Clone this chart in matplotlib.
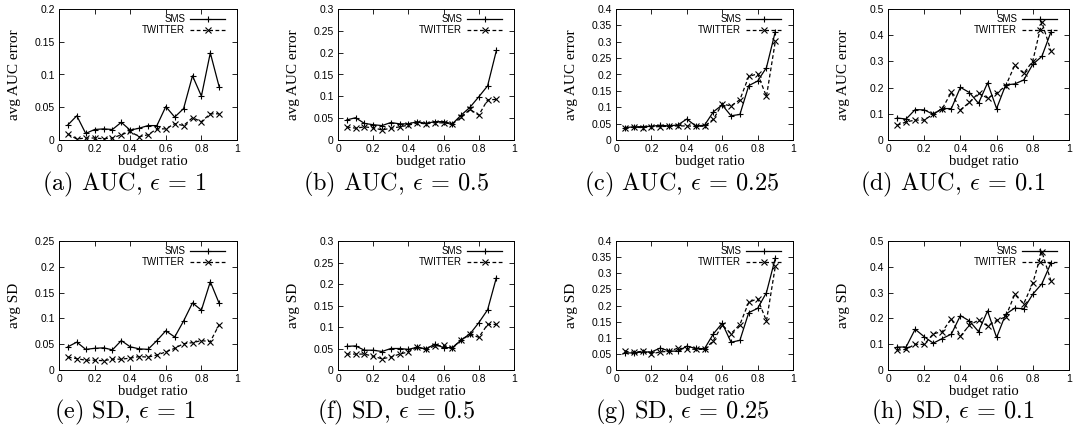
import matplotlib
matplotlib.use("Agg")
import matplotlib.pyplot as plt
import numpy as np

# budget ratio 0.05 .. 0.9
budget = [0.05, 0.1, 0.15, 0.2, 0.25, 0.3, 0.35, 0.4, 0.45,
          0.5, 0.55, 0.6, 0.65, 0.7, 0.75, 0.8, 0.85, 0.9]

# avg AUC error
auc_sms_1 = [0.023, 0.037, 0.010, 0.016, 0.017, 0.016, 0.027, 0.015, 0.018,
             0.022, 0.022, 0.051, 0.035, 0.048, 0.098, 0.067, 0.133, 0.081]
auc_tw_1 = [0.009, 0.0015, 0.003, 0.003, 0.002, 0.003, 0.008, 0.013, 0.005,
            0.008, 0.017, 0.017, 0.025, 0.022, 0.034, 0.028, 0.040, 0.040]
auc_sms_05 = [0.046, 0.051, 0.038, 0.035, 0.033, 0.040, 0.037, 0.037, 0.042,
              0.038, 0.042, 0.042, 0.037, 0.057, 0.075, 0.099, 0.124, 0.205]
auc_tw_05 = [0.030, 0.027, 0.030, 0.028, 0.023, 0.027, 0.030, 0.034, 0.039,
             0.037, 0.040, 0.039, 0.037, 0.053, 0.070, 0.057, 0.092, 0.093]
auc_sms_025 = [0.038, 0.040, 0.041, 0.042, 0.045, 0.043, 0.046, 0.064, 0.043,
               0.045, 0.086, 0.107, 0.074, 0.078, 0.166, 0.180, 0.221, 0.331]
auc_tw_025 = [0.037, 0.039, 0.038, 0.040, 0.041, 0.042, 0.043, 0.043, 0.042,
              0.042, 0.063, 0.110, 0.104, 0.123, 0.194, 0.202, 0.133, 0.301]
auc_sms_01 = [0.084, 0.080, 0.116, 0.115, 0.098, 0.120, 0.120, 0.201, 0.181,
              0.140, 0.218, 0.120, 0.210, 0.214, 0.229, 0.289, 0.319, 0.412]
auc_tw_01 = [0.056, 0.069, 0.076, 0.076, 0.099, 0.120, 0.182, 0.115, 0.144,
             0.179, 0.160, 0.179, 0.206, 0.285, 0.254, 0.302, 0.450, 0.341]

# avg SD
sd_sms_1 = [0.045, 0.054, 0.040, 0.042, 0.043, 0.039, 0.057, 0.045, 0.041,
            0.040, 0.057, 0.076, 0.064, 0.095, 0.130, 0.116, 0.171, 0.129]
sd_tw_1 = [0.025, 0.022, 0.019, 0.019, 0.018, 0.021, 0.021, 0.023, 0.026,
           0.025, 0.029, 0.035, 0.042, 0.051, 0.053, 0.057, 0.055, 0.088]
sd_sms_05 = [0.055, 0.056, 0.046, 0.046, 0.043, 0.050, 0.050, 0.048, 0.053,
             0.049, 0.060, 0.052, 0.052, 0.070, 0.084, 0.110, 0.140, 0.215]
sd_tw_05 = [0.037, 0.037, 0.037, 0.032, 0.026, 0.030, 0.037, 0.042, 0.053,
            0.048, 0.056, 0.057, 0.052, 0.069, 0.083, 0.076, 0.106, 0.106]
sd_sms_025 = [0.053, 0.053, 0.056, 0.056, 0.068, 0.059, 0.058, 0.074, 0.067,
              0.066, 0.112, 0.145, 0.086, 0.092, 0.178, 0.191, 0.240, 0.347]
sd_tw_025 = [0.058, 0.055, 0.058, 0.050, 0.056, 0.058, 0.068, 0.065, 0.064,
             0.064, 0.091, 0.139, 0.113, 0.141, 0.210, 0.221, 0.152, 0.321]
sd_sms_01 = [0.089, 0.089, 0.158, 0.129, 0.104, 0.122, 0.139, 0.211, 0.190,
             0.149, 0.229, 0.126, 0.216, 0.240, 0.237, 0.294, 0.334, 0.414]
sd_tw_01 = [0.077, 0.080, 0.100, 0.099, 0.140, 0.149, 0.199, 0.131, 0.174,
            0.193, 0.171, 0.192, 0.206, 0.293, 0.257, 0.337, 0.459, 0.346]

captions = [r"(a) AUC, $\epsilon$ = 1",
            r"(b) AUC, $\epsilon$ = 0.5",
            r"(c) AUC, $\epsilon$ = 0.25",
            r"(d) AUC, $\epsilon$ = 0.1",
            r"(e) SD, $\epsilon$ = 1",
            r"(f) SD, $\epsilon$ = 0.5",
            r"(g) SD, $\epsilon$ = 0.25",
            r"(h) SD, $\epsilon$ = 0.1"]
ylabels = ["avg AUC error"] * 4 + ["avg SD"] * 4
ymaxs = [0.2, 0.3, 0.4, 0.5, 0.25, 0.3, 0.4, 0.5]
ysteps = [0.05, 0.05, 0.05, 0.1, 0.05, 0.05, 0.05, 0.1]
sms = [auc_sms_1, auc_sms_05, auc_sms_025, auc_sms_01,
       sd_sms_1, sd_sms_05, sd_sms_025, sd_sms_01]
tw = [auc_tw_1, auc_tw_05, auc_tw_025, auc_tw_01,
      sd_tw_1, sd_tw_05, sd_tw_025, sd_tw_01]

plt.rcParams['font.family'] = ['Liberation Sans', 'DejaVu Sans']
plt.rcParams['mathtext.fontset'] = 'cm'

W, H = 1075, 436
fig = plt.figure(figsize=(W / 100, H / 100), dpi=100)

# axes boxes in pixels (left, width), rows (top, bottom)
cols = [(59, 178), (338, 176), (616, 177), (888, 181)]
rows = [(9, 140), (241, 370)]
cap_x = [125, 396, 682, 953]
cap_y = [184, 412]

for n in range(8):
    r, c = n // 4, n % 4
    left, w = cols[c]
    top, bot = rows[r]
    h = bot - top
    ax = fig.add_axes([left / W, 1 - bot / H, w / W, h / H])

    ax.plot(budget, sms[n], color='black', lw=0.9, marker='+', ms=4.5,
            mew=0.8, label='SMS')
    ax.plot(budget, tw[n], color='black', lw=0.9, ls=(0, (3, 2)),
            marker='x', ms=4.3, mew=0.8, label='TWITTER')

    ax.set_xlim(0, 1)
    ax.set_ylim(0, ymaxs[n])
    xt = np.arange(0, 1.01, 0.2)
    ax.set_xticks(xt)
    ax.set_xticklabels(["%g" % round(v, 2) for v in xt])
    yt = np.arange(0, ymaxs[n] + 1e-9, ysteps[n])
    ax.set_yticks(yt)
    ax.set_yticklabels(["%g" % round(v, 3) for v in yt])
    ax.tick_params(direction='in', length=3.5, width=0.6, labelsize=7.5,
                   top=True, right=True, pad=3)
    for sp in ax.spines.values():
        sp.set_linewidth(0.7)

    ax.set_xlabel("budget ratio", family='Liberation Serif', fontsize=10.5)
    ax.xaxis.set_label_coords(0.5 + 5 / w, -15 / h)
    ax.set_ylabel(ylabels[n], family='Liberation Serif', fontsize=11)
    ax.yaxis.set_label_coords(-38 / w, 0.5)

    ax.legend(loc='upper right', bbox_to_anchor=(1 - 11 / w, 1 - 4 / h),
              frameon=False, markerfirst=False,
              fontsize=7, handlelength=3.6, handletextpad=0.5,
              labelspacing=0.1, borderaxespad=0, borderpad=0.1)

    fig.text(cap_x[c] / W, 1 - cap_y[r] / H, captions[n], fontsize=17.5,
             family='cmr10', ha='center', va='center')

fig.savefig("out.png", dpi=100)
